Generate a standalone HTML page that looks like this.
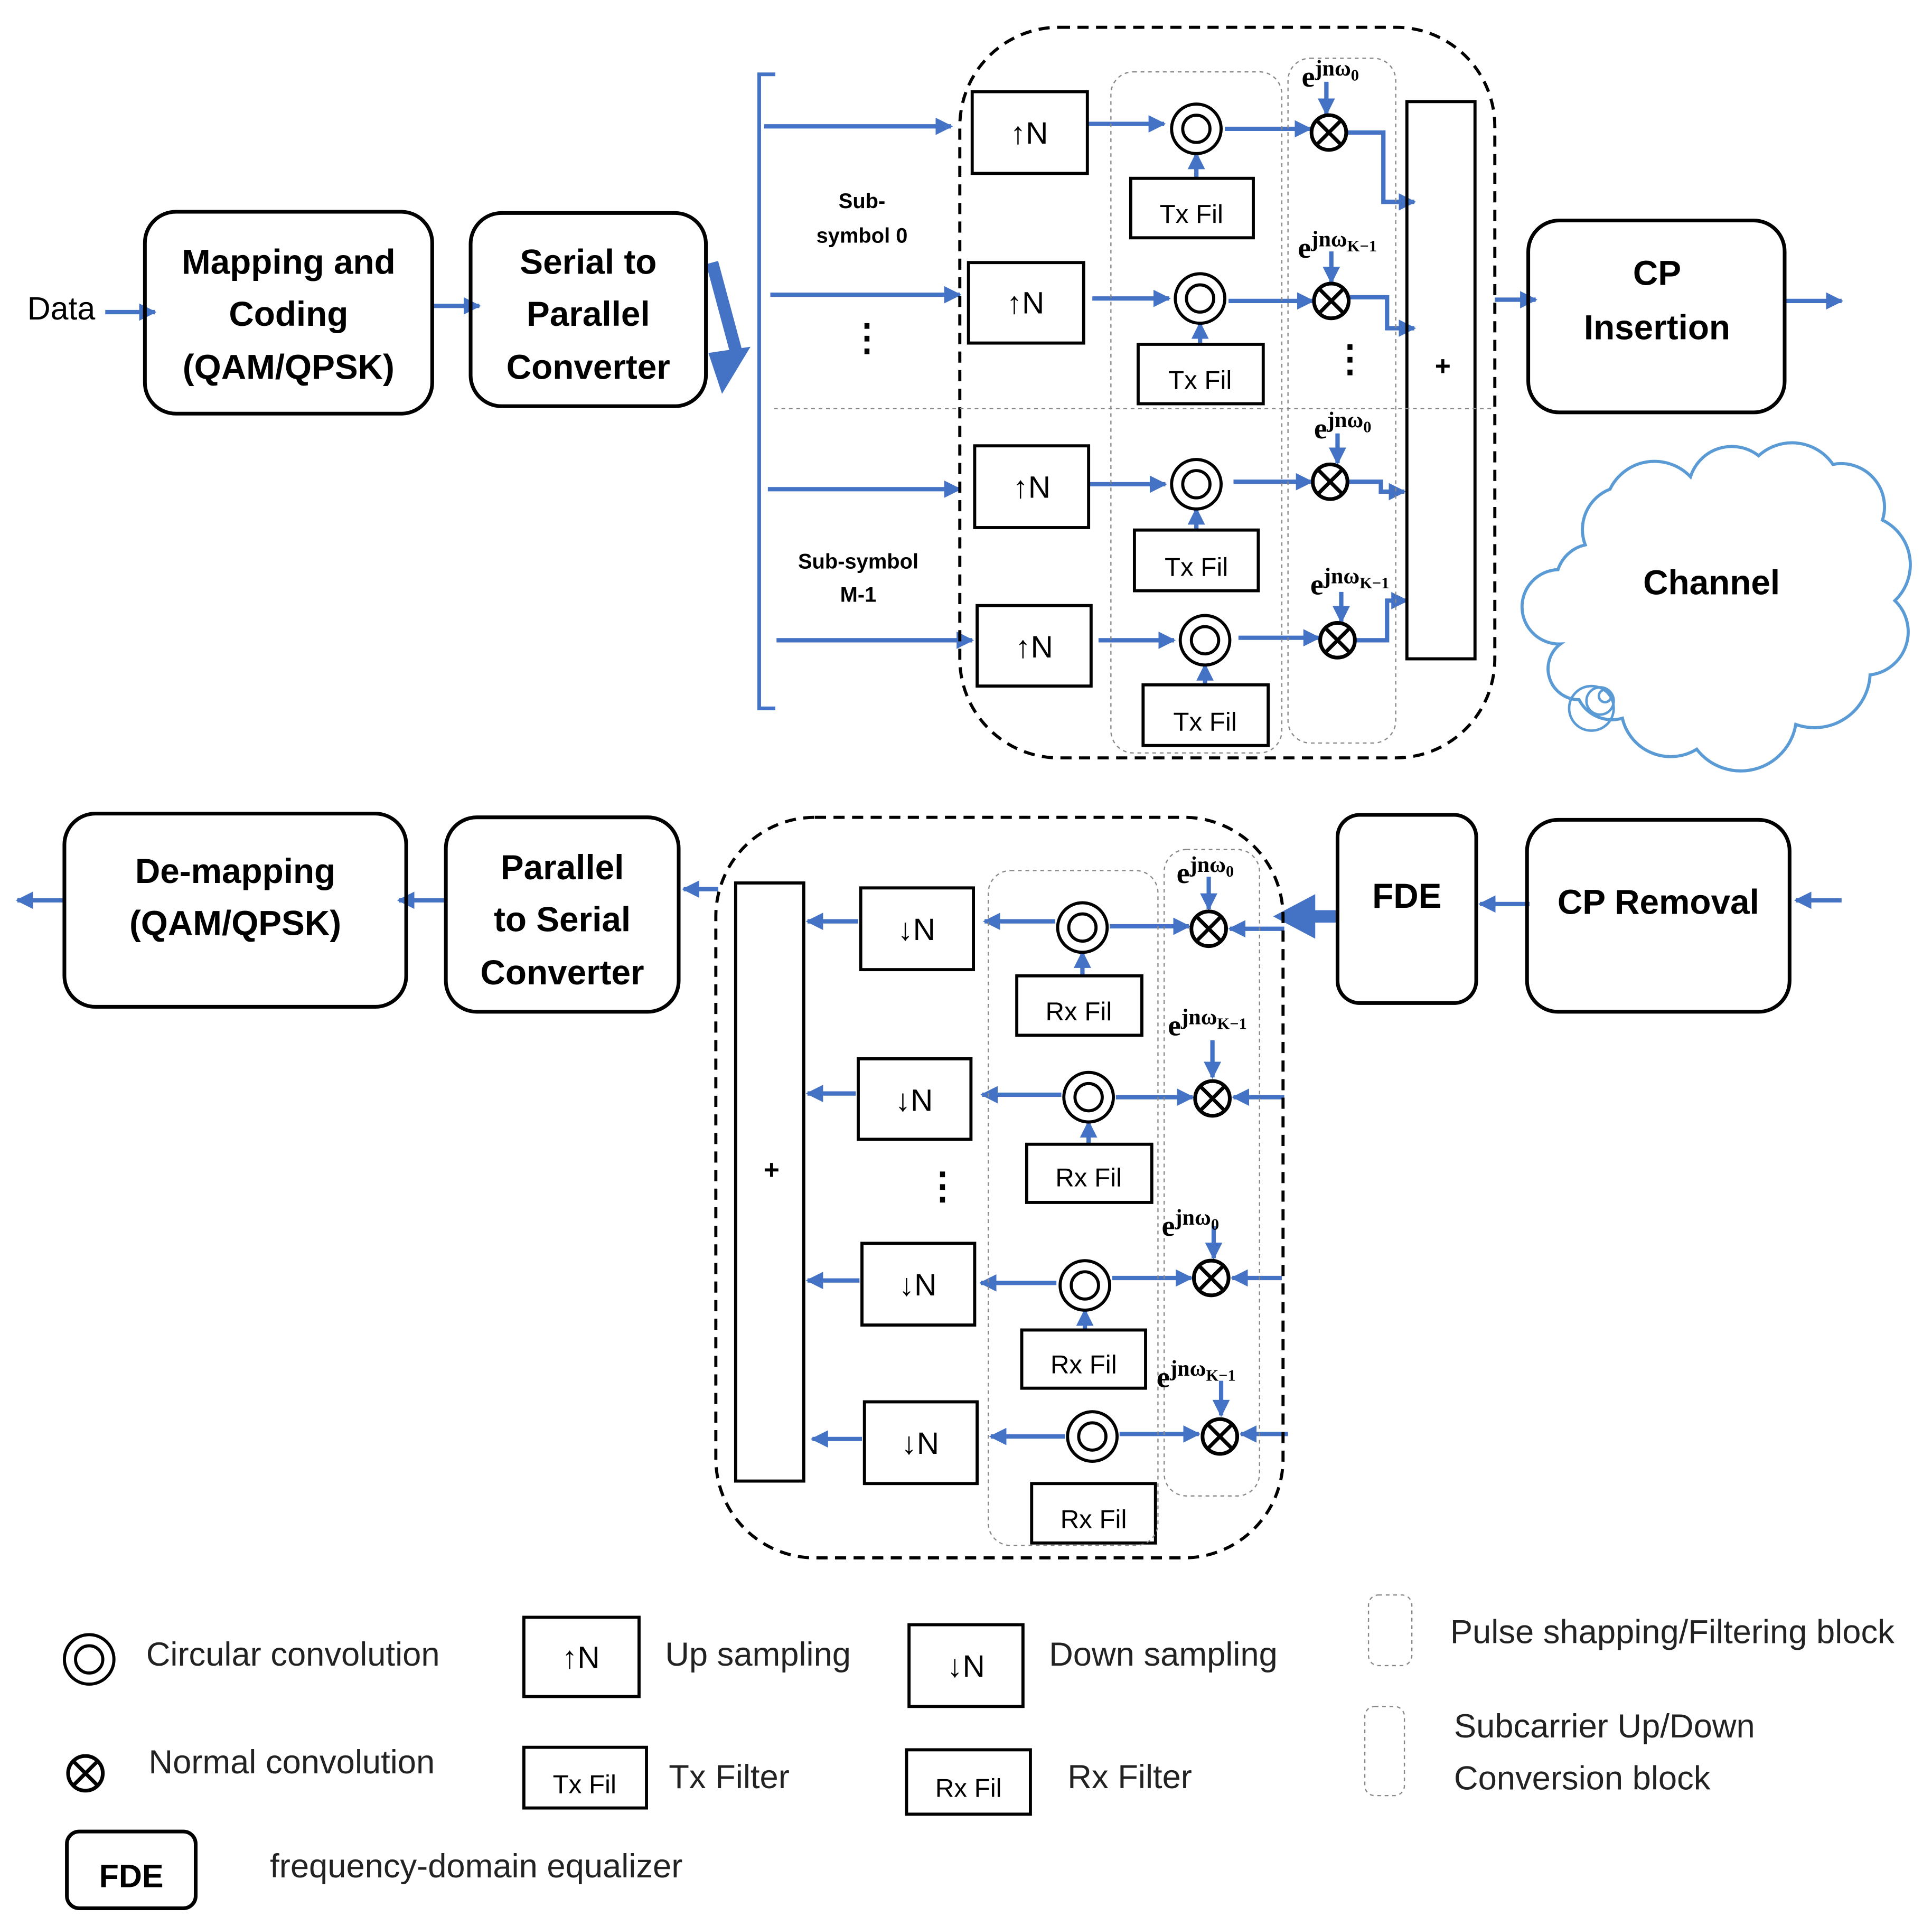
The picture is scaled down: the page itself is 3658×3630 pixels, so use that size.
<!DOCTYPE html>
<html><head><meta charset="utf-8"><style>html,body{margin:0;padding:0;background:#fff}svg{display:block}</style></head><body>
<svg width="3658" height="3630" viewBox="0 0 1560 1548" xmlns="http://www.w3.org/2000/svg" font-family="Liberation Sans, sans-serif">
<defs>
<marker id="a" viewBox="0 0 10 10" refX="9" refY="5" markerWidth="4" markerHeight="4" orient="auto"><path d="M0,0L10,5L0,10z" fill="#4472C4"/></marker>
<g id="m" fill="none" stroke="#000" stroke-width="3"><circle r="14"/><path d="M-9,-9L9,9M-9,9L9,-9"/></g>
</defs>
<g fill="none" stroke="#4472C4" stroke-width="3.5" marker-end="url(#a)">
<path d="M85,252H125"/><path d="M350,247H387"/>
<path d="M617,102H768"/><path d="M622,238H775"/><path d="M620,395H775"/><path d="M627,517H785"/>
<path d="M878,100H940"/><path d="M882,241H944"/><path d="M879,391H941"/><path d="M887,517H948"/>
<path d="M966,144V124"/><path d="M969,278V261"/><path d="M966,428V411"/><path d="M973,553V537"/>
<path d="M989,104H1058"/><path d="M992,243H1060"/><path d="M996,389H1059"/><path d="M1000,515H1065"/>
<path d="M1071,66V92"/><path d="M1075,203V228"/><path d="M1080,350V374"/><path d="M1083,478V502"/>
<path d="M1088,107H1117V163H1142"/><path d="M1090,240H1120V265H1142"/><path d="M1089,389H1115V397H1134"/><path d="M1095,517H1120V485H1136"/>
<path d="M1207,242H1240"/><path d="M1441,243H1487"/>
<path d="M52,727H14"/><path d="M360,727H322"/><path d="M580,718H552"/>
<path d="M693,744H652"/><path d="M691,883H652"/><path d="M694,1034H652"/><path d="M696,1162H656"/>
<path d="M852,744H795"/><path d="M857,884H793"/><path d="M853,1036H792"/><path d="M860,1160H800"/>
<path d="M874,788V769"/><path d="M879,924V906"/><path d="M876,1074V1058"/>
<path d="M896,748H960"/><path d="M901,886H963"/><path d="M898,1032H962"/><path d="M904,1158H968"/>
<path d="M1037,750H993"/><path d="M1037,886H996"/><path d="M1035,1032H995"/><path d="M1040,1158H1002"/>
<path d="M976,708V734"/><path d="M979,840V870"/><path d="M980,990V1016"/><path d="M986,1115V1143"/>
<path d="M1235,730H1195"/><path d="M1487,727H1450"/>
</g>
<path d="M575,212L596,290" stroke="#4472C4" stroke-width="10"/><path d="M583,318L572,285L606,280z" fill="#4472C4"/>
<path d="M1080,740H1060" stroke="#4472C4" stroke-width="10"/><path d="M1028,740L1062,722L1062,758z" fill="#4472C4"/>
<path d="M626,60H613V572H626" fill="none" stroke="#4472C4" stroke-width="3"/>
<g fill="none" stroke="#000" stroke-width="3">
<rect x="117" y="171" width="232" height="163" rx="25"/><rect x="380" y="172" width="190" height="156" rx="25"/>
<rect x="1234" y="178" width="207" height="155" rx="25"/>
<rect x="52" y="657" width="276" height="156" rx="25"/><rect x="360" y="660" width="188" height="157" rx="25"/>
<rect x="1080" y="658" width="112" height="152" rx="18"/><rect x="1233" y="662" width="212" height="155" rx="25"/>
<rect x="54" y="1479" width="104" height="62" rx="10"/>
</g>
<g fill="none" stroke="#000" stroke-width="2.5">
<rect x="785" y="74" width="93" height="66"/><rect x="782" y="212" width="93" height="65"/><rect x="787" y="360" width="92" height="66"/><rect x="789" y="489" width="92" height="65"/>
<rect x="913" y="144" width="99" height="48"/><rect x="919" y="278" width="101" height="48"/><rect x="916" y="428" width="100" height="49"/><rect x="923" y="553" width="101" height="49"/>
<rect x="1136" y="82" width="55" height="450"/><rect x="594" y="713" width="55" height="483"/>
<rect x="695" y="717" width="91" height="66"/><rect x="693" y="855" width="91" height="65"/><rect x="696" y="1004" width="91" height="66"/><rect x="698" y="1132" width="91" height="66"/>
<rect x="821" y="788" width="101" height="48"/><rect x="829" y="924" width="101" height="47"/><rect x="825" y="1074" width="100" height="47"/><rect x="833" y="1198" width="100" height="48"/>
<rect x="423" y="1306" width="93" height="64"/><rect x="423" y="1411" width="99" height="49"/><rect x="734" y="1312" width="92" height="66"/><rect x="732" y="1413" width="100" height="52"/>
<circle cx="966" cy="104" r="20"/><circle cx="966" cy="104" r="11"/><circle cx="969" cy="241" r="20"/><circle cx="969" cy="241" r="11"/>
<circle cx="966" cy="391" r="20"/><circle cx="966" cy="391" r="11"/><circle cx="973" cy="517" r="20"/><circle cx="973" cy="517" r="11"/>
<circle cx="874" cy="749" r="20"/><circle cx="874" cy="749" r="11"/><circle cx="879" cy="886" r="20"/><circle cx="879" cy="886" r="11"/>
<circle cx="876" cy="1038" r="20"/><circle cx="876" cy="1038" r="11"/><circle cx="882" cy="1160" r="20"/><circle cx="882" cy="1160" r="11"/>
<circle cx="72" cy="1340" r="20"/><circle cx="72" cy="1340" r="11"/>
</g>
<use href="#m" x="1073" y="107"/><use href="#m" x="1075" y="243"/><use href="#m" x="1074" y="389"/><use href="#m" x="1080" y="517"/>
<use href="#m" x="976" y="750"/><use href="#m" x="979" y="887"/><use href="#m" x="978" y="1032"/><use href="#m" x="985" y="1160"/><use href="#m" x="69" y="1432"/>
<g fill="none" stroke="#000" stroke-width="2.5" stroke-dasharray="9,6">
<rect x="775" y="22" width="432" height="590" rx="80"/><rect x="578" y="660" width="458" height="598" rx="80"/>
</g>
<g fill="none" stroke="#888" stroke-width="1" stroke-dasharray="3,3">
<path d="M625,330H1205"/>
<rect x="897" y="58" width="138" height="550" rx="18"/><rect x="1040" y="47" width="87" height="553" rx="18"/>
<rect x="798" y="703" width="137" height="545" rx="18"/><rect x="940" y="686" width="77" height="522" rx="18"/>
<rect x="1105" y="1288" width="35" height="57" rx="8"/><rect x="1102" y="1378" width="32" height="72" rx="8"/>
</g>
<path d="M1275,565 A25,25 0 0 1 1260,520 A30,30 0 0 1 1258,460 A30,30 0 0 1 1280,440 A35,35 0 0 1 1300,395 A40,40 0 0 1 1365,385 A35,35 0 0 1 1420,368 A40,40 0 0 1 1480,375 A35,35 0 0 1 1520,420 A40,40 0 0 1 1530,485 A35,35 0 0 1 1510,545 A45,45 0 0 1 1450,585 A45,45 0 0 1 1370,605 A40,40 0 0 1 1310,580 A30,30 0 0 1 1275,565z" fill="none" stroke="#5B9BD5" stroke-width="2.5"/>
<g fill="none" stroke="#5B9BD5" stroke-width="2"><circle cx="1285" cy="572" r="18"/><circle cx="1292" cy="566" r="11"/><circle cx="1296" cy="562" r="5"/></g>
<g font-weight="bold" font-size="28" text-anchor="middle" fill="#000">
<text x="233" y="221">Mapping and</text><text x="233" y="263">Coding</text><text x="233" y="306">(QAM/QPSK)</text>
<text x="475" y="221">Serial to</text><text x="475" y="263">Parallel</text><text x="475" y="306">Converter</text>
<text x="1338" y="230">CP</text><text x="1338" y="274">Insertion</text>
<text x="1382" y="480">Channel</text>
<text x="190" y="713">De-mapping</text><text x="190" y="755">(QAM/QPSK)</text>
<text x="454" y="710">Parallel</text><text x="454" y="752">to Serial</text><text x="454" y="795">Converter</text>
<text x="1136" y="733">FDE</text><text x="1339" y="738">CP Removal</text>
<text x="106" y="1524" font-size="26">FDE</text>
<text x="1165" y="303" font-size="22">+</text><text x="623" y="952" font-size="22">+</text>
</g>
<g font-weight="bold" font-size="17" text-anchor="middle">
<text x="696" y="168">Sub-</text><text x="696" y="196">symbol 0</text>
<text x="693" y="459">Sub-symbol</text><text x="693" y="486">M-1</text>
</g>
<g font-size="30" font-weight="bold" text-anchor="middle"><text x="700" y="283">⋮</text><text x="1090" y="300">⋮</text><text x="761" y="968">⋮</text></g>
<g font-size="25" text-anchor="middle">
<text x="831" y="116">↑N</text><text x="828" y="253">↑N</text><text x="833" y="402">↑N</text><text x="835" y="531">↑N</text>
<text x="740" y="759">↓N</text><text x="738" y="897">↓N</text><text x="741" y="1046">↓N</text><text x="743" y="1174">↓N</text>
<text x="469" y="1347">↑N</text><text x="780" y="1354">↓N</text>
</g>
<g font-size="21" text-anchor="middle">
<text x="962" y="180">Tx Fil</text><text x="969" y="314">Tx Fil</text><text x="966" y="465">Tx Fil</text><text x="973" y="590">Tx Fil</text>
<text x="871" y="824">Rx Fil</text><text x="879" y="958">Rx Fil</text><text x="875" y="1109">Rx Fil</text><text x="883" y="1234">Rx Fil</text>
<text x="472" y="1448">Tx Fil</text><text x="782" y="1451">Rx Fil</text>
</g>
<text x="22" y="258" font-size="26">Data</text>
<g font-family="Liberation Serif, serif" font-weight="bold" font-size="24">
<text x="1051" y="70">e<tspan font-size="18" dy="-9">jnω</tspan><tspan font-size="13" dy="4">0</tspan></text>
<text x="1048" y="208">e<tspan font-size="18" dy="-9">jnω</tspan><tspan font-size="13" dy="4">K−1</tspan></text>
<text x="1061" y="354">e<tspan font-size="18" dy="-9">jnω</tspan><tspan font-size="13" dy="4">0</tspan></text>
<text x="1058" y="480">e<tspan font-size="18" dy="-9">jnω</tspan><tspan font-size="13" dy="4">K−1</tspan></text>
<text x="950" y="713">e<tspan font-size="18" dy="-9">jnω</tspan><tspan font-size="13" dy="4">0</tspan></text>
<text x="943" y="836">e<tspan font-size="18" dy="-9">jnω</tspan><tspan font-size="13" dy="4">K−1</tspan></text>
<text x="938" y="998">e<tspan font-size="18" dy="-9">jnω</tspan><tspan font-size="13" dy="4">0</tspan></text>
<text x="934" y="1120">e<tspan font-size="18" dy="-9">jnω</tspan><tspan font-size="13" dy="4">K−1</tspan></text>
</g>
<g font-size="27" fill="#222">
<text x="118" y="1345">Circular convolution</text><text x="120" y="1432">Normal convolution</text>
<text x="218" y="1516">frequency-domain equalizer</text>
<text x="537" y="1345">Up sampling</text><text x="540" y="1444">Tx Filter</text>
<text x="847" y="1345">Down sampling</text><text x="862" y="1444">Rx Filter</text>
<text x="1171" y="1327">Pulse shapping/Filtering block</text>
<text x="1174" y="1403">Subcarrier Up/Down</text><text x="1174" y="1445">Conversion block</text>
</g>
</svg>
</body></html>
